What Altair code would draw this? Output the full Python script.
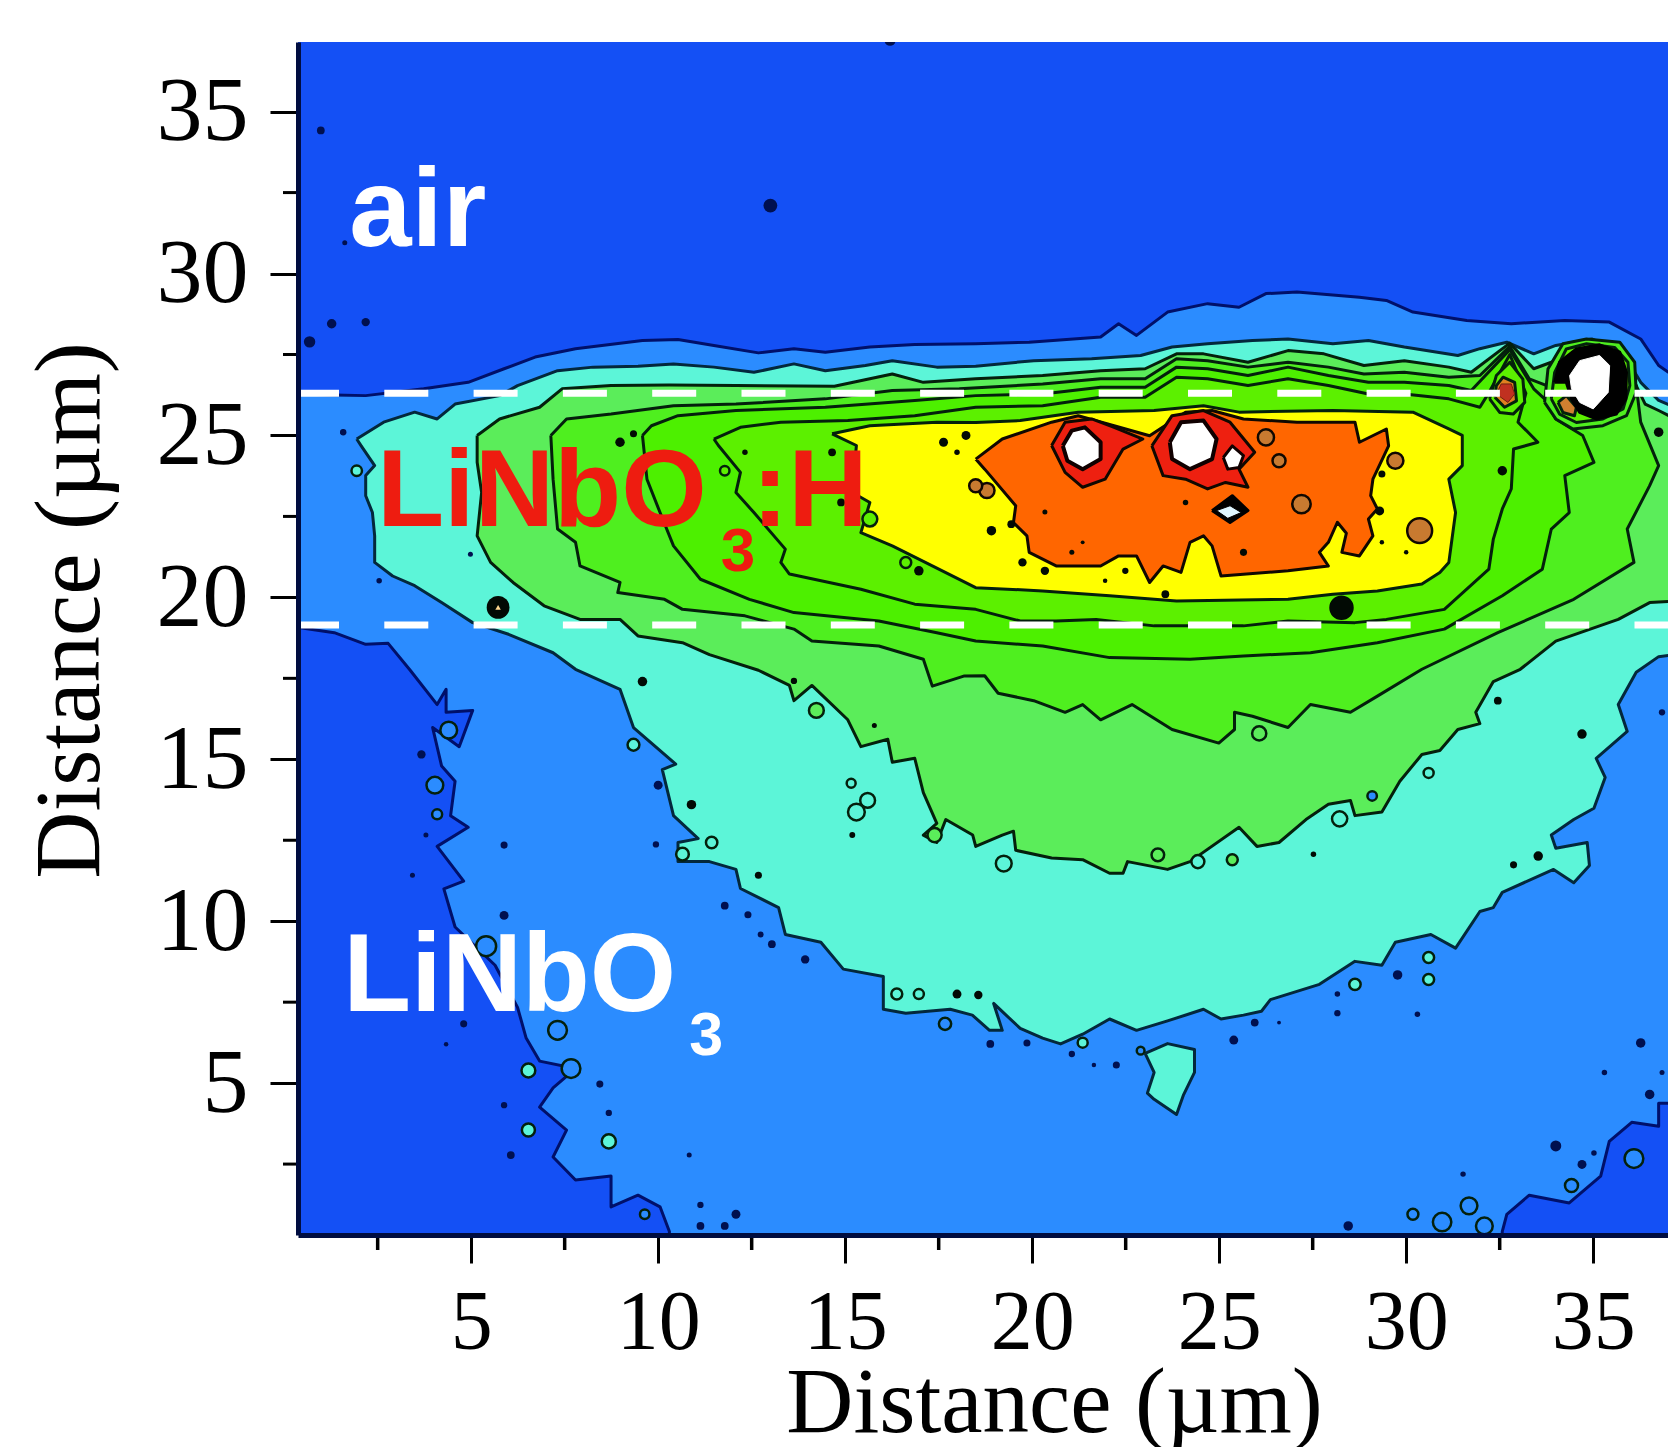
import altair as alt
import pandas as pd

X_MAJOR = [5, 10, 15, 20, 25, 30, 35]
Y_MAJOR = [5, 10, 15, 20, 25, 30, 35]
X_MINOR = [2.5, 7.5, 12.5, 17.5, 22.5, 27.5, 32.5]
Y_MINOR = [2.5, 7.5, 12.5, 17.5, 22.5, 27.5, 32.5]
TITLE = "Distance (µm)"
INTERFACES = [26.3, 19.15]

MID_BLUE = [[-1,26.28],[0.37,26.28],[1.34,26.25],[2.18,26.23],[3.73,26.44],[4.92,26.64],[5.88,27.06],[6.71,27.42],[7.79,27.68],[9.58,27.93],[10.53,27.96],[11.49,27.78],[12.68,27.55],[13.63,27.68],[14.47,27.57],[15.66,27.73],[16.86,27.81],[18.49,27.83],[19.92,27.88],[21.83,28.04],[22.31,28.45],[22.79,28.09],[23.62,28.81],[24.69,29.07],[25.53,28.96],[26.25,29.38],[27.08,29.43],[28.75,29.27],[29.47,29.17],[30.18,28.81],[31.62,28.55],[32.81,28.45],[34.24,28.55],[35.43,28.5],[36.27,27.98],[36.75,27.16],[37.2,26.8],[38,26.8],[38,4.38],[37.2,4.38],[36.75,4.38],[36.75,3.67],[36.03,3.79],[35.43,3.2],[35.2,2.13],[34.36,1.3],[33.29,1.54],[32.69,0.95],[32.57,0.42],[32.5,-1],[10.3,-1],[10.3,0.42],[10.05,1.18],[9.46,1.54],[8.74,1.18],[8.74,2.13],[7.79,2.01],[7.19,2.72],[7.55,3.55],[6.83,4.26],[7.19,4.85],[7.79,5.45],[6.83,5.68],[6.47,6.39],[6.24,7.34],[5.64,8.64],[4.57,9.82],[4.27,11.0],[4.8,11.24],[4.09,12.31],[4.92,12.9],[4.45,13.26],[4.57,14.32],[4.21,14.79],[3.97,15.98],[4.68,15.39],[5.04,16.51],[4.33,16.45],[4.33,17.16],[4.09,16.69],[3.37,17.75],[2.78,18.58],[2.18,18.55],[1.34,18.91],[0.39,19.07],[-1,19.07]]

CYAN = [[1.94,24.89],[2.66,25.41],[3.49,25.72],[4.09,25.51],[4.57,25.97],[5.76,26.23],[6.24,26.54],[7.31,27.0],[8.26,27.11],[9.46,27.14],[10.41,27.21],[11.49,27.11],[12.56,26.95],[13.63,27.21],[14.47,27.0],[15.54,27.16],[16.26,27.31],[17.45,27.11],[18.49,27.14],[20.04,27.31],[21.59,27.37],[22.9,27.47],[23.74,27.73],[24.69,27.83],[25.89,27.93],[26.84,27.98],[28.04,27.83],[28.99,27.93],[29.95,27.73],[31.38,27.47],[31.97,27.68],[32.69,27.88],[33.41,27.52],[34.0,27.78],[34.96,27.98],[35.79,27.57],[36.27,26.64],[36.75,26.08],[37.2,25.87],[38,25.87],[38,18.23],[37.2,18.23],[36.75,18.17],[36.15,17.69],[35.67,16.69],[35.91,15.86],[35.08,15.03],[35.32,14.44],[35.02,13.49],[34.48,13.14],[33.88,12.66],[34.0,12.25],[34.84,12.43],[34.9,11.72],[34.48,11.19],[33.94,11.6],[32.57,10.89],[32.33,10.42],[31.97,10.3],[31.32,9.17],[30.66,9.59],[29.71,9.35],[29.35,8.64],[28.63,8.76],[27.68,8.05],[26.37,7.58],[26.13,7.22],[25.65,7.1],[25.05,6.98],[24.58,7.28],[23.62,6.92],[22.79,6.63],[22.07,6.98],[21.35,6.51],[20.76,6.21],[20.28,6.39],[19.68,6.69],[18.97,7.46],[19.2,6.63],[18.86,6.63],[18.4,7.1],[17.81,7.28],[16.62,7.16],[16.02,7.28],[16.02,8.29],[14.95,8.52],[14.35,9.35],[13.4,9.59],[13.22,10.42],[12.2,11.01],[12.08,11.6],[11.37,11.84],[10.53,11.84],[10.53,12.43],[11.07,12.55],[10.41,13.26],[10.11,14.68],[10.47,14.85],[9.34,15.98],[8.98,17.16],[7.79,17.78],[7.19,18.29],[6.0,18.86],[5.04,19.22],[4.21,19.84],[3.49,20.36],[2.9,20.66],[2.42,21.08],[2.42,21.9],[2.36,22.62],[2.18,23.14],[2.18,23.76],[2.42,24.07],[2.06,24.68]]

CYAN_ISLAND = [[23.02,5.92],[23.62,6.22],[24.34,6.04],[24.34,5.33],[24.04,4.62],[23.86,4.03],[23.26,4.5],[23.08,4.69],[23.26,5.33]]

LEVEL3 = [[5.16,25.0],[5.76,25.51],[6.83,25.87],[7.43,26.44],[8.74,26.54],[10.29,26.56],[12.08,26.54],[14.71,26.52],[16.26,26.9],[17.09,26.64],[18.49,26.75],[20.28,26.85],[21.83,27.0],[23.02,27.06],[23.86,27.52],[24.58,27.52],[25.77,27.26],[26.84,27.62],[27.8,27.52],[28.87,27.16],[29.95,27.31],[31.14,27.11],[31.74,26.95],[32.77,27.85],[33.41,27.06],[33.88,27.26],[34.96,27.83],[35.67,27.37],[36.15,26.54],[36.39,25.97],[36.75,25.77],[37.2,25.51],[38,25.51],[38,19.89],[37.2,19.89],[36.51,19.84],[35.67,19.32],[34.0,18.65],[33.05,17.78],[32.33,17.4],[31.86,16.45],[31.97,16.1],[31.38,15.92],[30.9,15.27],[30.42,15.15],[29.83,14.32],[29.35,13.37],[28.63,13.26],[28.51,13.73],[27.92,13.61],[27.32,13.14],[26.6,12.43],[26.01,12.31],[25.53,12.9],[24.22,11.84],[23.62,11.6],[22.55,11.84],[22.43,11.48],[22.07,11.48],[21.35,11.9],[20.52,11.95],[19.56,12.19],[19.5,12.78],[19.2,12.66],[18.49,12.31],[18.41,12.66],[17.69,13.14],[17.45,12.43],[17.09,12.66],[17.45,13.02],[17.09,13.97],[16.86,15.03],[16.26,14.91],[16.14,15.62],[15.42,15.39],[15.07,16.22],[14.11,17.28],[13.63,16.81],[13.51,17.28],[12.68,17.75],[11.37,18.23],[10.65,18.6],[9.46,18.81],[8.98,19.32],[7.91,19.32],[6.95,19.74],[6.12,20.46],[5.52,21.08],[5.16,21.9],[5.28,23.24],[5.16,24.17]]

LEVEL4 = [[7.13,25.0],[7.55,25.51],[8.74,25.66],[10.41,25.92],[12.08,25.97],[14.47,26.13],[16.26,26.39],[18.05,26.44],[20.28,26.59],[21.83,26.75],[23.02,26.75],[23.86,27.37],[24.69,27.31],[25.77,27.11],[26.84,27.26],[27.92,27.11],[28.87,26.9],[29.95,26.95],[31.14,26.8],[31.97,26.85],[32.77,27.75],[33.29,26.75],[33.76,26.54],[33.88,27.16],[34.96,27.68],[35.67,27.16],[36.15,26.54],[36.27,25.41],[36.75,24.07],[36.51,23.45],[35.91,22.11],[36.09,21.08],[34.48,19.94],[32.45,18.91],[30.42,17.78],[29.23,16.95],[28.51,16.45],[27.44,16.69],[26.84,15.98],[25.89,16.33],[25.41,16.45],[25.41,15.92],[24.99,15.5],[23.74,15.92],[22.67,16.69],[21.83,16.22],[21.35,16.69],[20.88,16.45],[20.04,16.81],[19.09,17.04],[18.73,17.58],[18.17,17.57],[17.33,17.26],[17.09,18.09],[15.9,18.5],[14.11,18.65],[13.63,19.02],[12.32,19.43],[10.65,19.63],[10.17,19.94],[8.92,20.15],[8.98,20.46],[7.91,20.97],[7.79,21.7],[7.31,22.11],[7.19,23.65]]

LEVEL5 = [[9.58,25.0],[9.82,25.3],[10.53,25.61],[12.08,25.77],[14.47,25.87],[16.86,26.08],[18.49,26.23],[20.28,26.28],[21.83,26.49],[23.02,26.49],[23.86,27.11],[24.69,27.06],[25.77,26.85],[26.84,27.11],[27.92,26.85],[28.99,26.64],[29.95,26.64],[31.14,26.54],[31.74,26.39],[32.77,27.65],[33.41,26.44],[33.7,26.13],[34.0,25.51],[34.72,25.0],[35.02,24.17],[34.24,23.76],[34.36,22.62],[33.88,22.11],[33.64,20.87],[32.57,20.05],[31.02,19.02],[29.23,18.6],[27.44,18.29],[25.65,18.19],[24.22,18.09],[22.07,18.14],[20.28,18.5],[18.49,18.65],[17.45,18.91],[15.9,19.27],[13.63,19.53],[12.44,19.94],[11.13,20.56],[10.41,21.59],[10.05,22.62],[9.7,23.65]]

LEVEL6 = [[11.49,24.89],[12.2,25.25],[13.28,25.41],[15.07,25.46],[16.86,25.61],[18.49,25.87],[20.28,25.92],[21.83,26.18],[23.02,26.18],[23.86,26.8],[24.69,26.75],[25.77,26.54],[26.84,26.75],[27.92,26.54],[28.99,26.28],[29.95,26.28],[31.14,26.13],[31.97,25.87],[32.2,26.3],[32.77,27.5],[33.2,26.3],[32.99,25.41],[33.52,24.79],[32.87,24.58],[32.81,23.35],[32.57,22.73],[32.33,21.8],[32.21,20.87],[31.02,19.63],[29.47,19.32],[28.63,19.22],[26.84,19.27],[25.65,19.12],[23.26,19.12],[21.71,19.32],[20.64,19.27],[19.68,19.27],[18.49,19.63],[16.86,19.79],[15.42,20.25],[13.51,20.72],[13.28,21.08],[13.4,21.49],[12.56,22.62],[12.08,23.24],[12.2,23.86],[11.61,24.69]]

YELLOW = [[14.65,25.05],[15.66,25.3],[17.45,25.41],[18.49,25.4],[19.68,25.46],[21.23,25.72],[23.26,25.77],[24.58,25.92],[25.53,25.72],[28.04,25.77],[30.18,25.72],[31.14,25.2],[31.5,25.0],[31.5,24.07],[31.14,23.65],[31.32,22.62],[31.14,21.08],[30.9,20.77],[30.42,20.41],[29.23,20.2],[28.04,20.1],[26.84,19.94],[23.86,19.89],[22.07,20.05],[20.28,20.2],[18.49,20.3],[17.33,20.97],[16.26,21.59],[15.42,22.0],[15.66,22.93],[15.19,23.24],[15.3,24.69]]

ORANGE = [[18.49,24.27],[19.2,24.89],[20.52,25.41],[21.23,25.61],[22.19,25.3],[23.14,24.99],[24.1,25.72],[24.81,25.77],[25.65,25.51],[27.08,25.41],[28.63,25.41],[28.75,24.79],[29.47,25.2],[29.53,24.68],[29.11,23.65],[29.05,23.14],[29.23,22.73],[28.99,22.42],[29.11,21.9],[28.75,21.28],[28.28,21.39],[28.4,21.98],[28.16,22.32],[27.92,21.7],[27.68,21.39],[27.92,20.97],[26.84,20.82],[25.05,20.66],[24.81,21.59],[24.58,21.9],[24.22,21.7],[23.98,20.77],[23.5,20.97],[23.14,20.46],[22.79,21.28],[22.31,21.28],[21.83,20.97],[20.64,20.97],[19.92,21.39],[19.86,21.9],[19.5,22.31],[19.56,22.83],[18.73,23.96]]

RED_A = [[20.52,24.69],[20.88,25.41],[21.59,25.51],[22.19,25.25],[22.96,24.89],[22.43,24.58],[21.95,23.65],[21.35,23.4],[20.88,23.86]]
RED_B = [[23.2,24.68],[23.74,25.61],[24.58,25.77],[25.29,25.41],[25.95,24.48],[25.53,23.96],[25.77,23.4],[25.17,23.55],[24.69,23.35],[24.1,23.65],[23.5,23.76]]
HOLE_A = [[20.82,24.68],[21.06,25.15],[21.41,25.25],[21.83,24.79],[21.83,24.27],[21.35,23.96],[20.94,24.22]]
HOLE_B = [[23.68,24.79],[23.98,25.41],[24.58,25.46],[24.93,24.89],[24.81,24.27],[24.22,23.96],[23.74,24.27]]
HOLE_C = [[25.11,24.32],[25.35,24.68],[25.65,24.38],[25.53,24.01],[25.23,23.96]]
HOLE_D_RING = [[24.81,22.68],[25.35,23.14],[25.77,22.68],[25.29,22.31]]
HOLE_D = [[24.93,22.68],[25.29,22.83],[25.59,22.62],[25.23,22.44]]

PEAK_B_RING = [[33.7,26.02],[34.0,25.51],[34.46,25.2],[35.26,25.3],[35.89,25.61],[36.15,26.33],[36.11,27.26],[35.71,27.88],[34.82,27.98],[34.19,27.83],[33.79,27.05]]
PEAK_B_RING2 = [[33.88,26.13],[34.1,25.66],[34.55,25.4],[35.26,25.51],[35.8,25.82],[35.98,26.54],[35.93,27.26],[35.57,27.72],[34.82,27.83],[34.28,27.67],[33.97,26.95]]
PEAK_B_CORE = [[33.97,26.64],[34.1,27.26],[34.55,27.67],[35.17,27.8],[35.71,27.57],[35.89,26.95],[35.87,26.13],[35.62,25.66],[35.08,25.51],[34.64,25.71],[34.42,26.13],[34.28,26.64]]
PEAK_B_BLOB = [[34.06,26.02],[34.28,26.23],[34.55,25.87],[34.5,25.61],[34.19,25.71]]
PEAK_B_HOLE = [[34.37,26.85],[34.64,27.31],[35.17,27.47],[35.44,27.16],[35.4,26.33],[35.0,25.82],[34.64,26.02],[34.42,26.44]]
PEAK_A_OUTER = [[32.23,26.13],[32.5,25.71],[32.86,25.66],[33.17,26.02],[33.12,26.74],[32.77,27.26],[32.41,26.85]]
PEAK_A_MID = [[32.37,26.18],[32.63,25.87],[32.95,26.07],[32.9,26.64],[32.59,26.8],[32.41,26.54]]
PEAK_A_CORE = [[32.41,26.28],[32.72,26.02],[32.9,26.28],[32.81,26.59],[32.54,26.59]]

SPECK_X = [0.98,0.68,1.27,2.18,1.62,1.57,3.67,10,5.88,9.94,3.79,3.43,5.88,11.78,12.4,12.74,13.04,13.93,4.8,4.33,8.44,8.68,5.88,6.06,10.83,11.13,12.08,11.13,11.78,18.88,19.86,21.06,21.65,22.25,25.39,25.95,26.6,28.16,28.16,29.77,30.3,36.84,36.27,35.3,36.84,36.51,34.0,34.7,31.52,28.45,35.02,13.0,16.2,4.98,1.58,2.54]
SPECK_Y = [34.42,27.89,28.45,28.5,30.95,25.1,15.15,14.2,12.35,12.37,12.66,11.42,10.18,10.48,10.2,9.59,9.29,8.82,6.83,6.2,4.97,4.08,4.32,2.78,2.78,1.24,0.95,0.59,0.59,6.21,6.24,5.9,5.56,5.56,6.33,6.87,6.87,7.75,7.16,8.34,7.13,16.45,6.24,5.33,5.33,4.65,3.06,2.49,2.19,0.59,2.84,32.1,37.2,21.33,25.1,20.51]
SPECK_AREA = [60,130,90,70,25,30,70,80,50,40,25,25,80,60,50,35,60,70,50,20,50,40,40,60,25,40,80,60,60,60,50,40,20,50,80,60,15,30,40,90,30,40,90,30,25,90,120,80,30,90,30,190,120,25,40,30]

BLACK_X = [5.72,28.27,10.89,12.68,17.99,18.56,15.19,15.78,9.58,13.63,32.87,33.53,32.45,34.7,27.52,18.91,19.44,19.74,20.34,21.95,22.49,29.35,29.29,29.35,30.0,23.56,20.34,24.1,21.35,21.06,25.65,32.57,36.75,17.63,18.23,17.99,12.32,14.65,8.98,9.34,14.89,16.97]
BLACK_Y = [19.69,19.68,13.6,11.42,7.75,7.72,12.66,16.04,17.4,17.42,11.74,12.01,16.81,15.78,12.07,22.06,22.26,21.08,20.82,20.51,20.82,23.81,22.67,21.7,21.39,20.1,22.64,22.93,21.7,21.39,21.39,23.91,25.1,24.79,25.0,24.48,24.48,24.48,24.79,25.05,22.93,20.82]
BLACK_AREA = [520,600,90,50,80,70,35,25,90,40,50,90,60,90,30,90,60,70,70,20,40,50,80,20,20,60,25,30,15,25,50,90,90,80,80,30,30,60,90,50,60,90]

BROWN_X = [26.25,26.6,27.2,29.71,30.36,18.79,18.49]
BROWN_Y = [24.94,24.22,22.88,24.22,22.06,23.3,23.45]
BROWN_AREA = [260,170,340,260,620,230,170]

ISLAND_X = [14.23,15.16,15.6,15.3,17.39,9.34,11.43,10.65,16.38,16.97,17.67,8.68,6.53,6.53,9.64,28.22,29.09,30.6,21.35,24.43,23.36,26.07,25.35,19.24,30.6,30.6,28.63,36.09,34.42,31.68,30.18,30.96,32.09,4.03,4.09,5.4,7.31,7.67,4.4,22.9,11.78,15.66,16.62,1.94]
ISLAND_Y = [16.51,14.26,13.73,13.37,12.66,15.45,12.43,12.07,7.75,7.75,6.83,3.2,3.55,5.39,0.95,13.16,13.87,14.58,6.25,11.84,12.05,15.8,11.9,11.78,8.88,8.2,8.05,2.67,1.84,1.21,0.95,0.71,0.59,14.2,13.3,9.23,6.63,5.45,15.9,6.0,23.91,22.42,21.08,23.91]
ISLAND_AREA = [220,80,220,280,200,140,130,160,120,100,150,200,170,190,90,230,90,100,100,170,160,200,120,250,120,120,130,350,170,280,120,340,280,280,100,400,350,350,280,60,90,220,120,110]
ISLAND_TONE = [3,2,2,2,3,2,2,2,2,2,1,2,2,2,1,2,1,2,2,2,3,3,3,2,2,2,2,1,1,1,1,1,1,1,1,1,1,1,1,1,4,4,4,2]

COLORS = {"blue": "#1450F5", "mid": "#2B8CFF", "cyan": "#5CF5D8", "l3": "#5BED5A", "l4": "#4FEF1F",
          "l5": "#4DF000", "l6": "#5CF000", "yellow": "#FFFF00", "orange": "#FF6600", "red": "#EE2010"}
TONES = {1: COLORS["mid"], 2: COLORS["cyan"], 3: COLORS["l3"], 4: COLORS["l6"]}

W, H = 1370, 1193
XMIN, XMAX = 0.37, 37.0
SERIF = "Liberation Serif"
SANS = "Liberation Sans"

sx = alt.Scale(domain=[XMIN, XMAX], nice=False, zero=False)
sy = alt.Scale(domain=[0.31, 37.15], nice=False, zero=False)
ax_x = alt.Axis(values=X_MAJOR, title=TITLE, format="d", grid=False, domainWidth=5, domainColor="#000d40",
                tickSize=28, tickWidth=3, tickColor="#000", labelFont=SERIF, labelFontSize=84, labelColor="#000",
                labelPadding=85, labelBaseline="alphabetic", labelFlush=False, titleFont=SERIF, titleFontSize=93,
                titleFontWeight="normal", titleColor="#000", titleX=756, titleY=196, titleBaseline="alphabetic",
                zindex=1, labelOverlap=False)
ax_y = alt.Axis(values=Y_MAJOR, title=TITLE, format="d", grid=False, domainWidth=5, domainColor="#000d40",
                tickSize=28, tickWidth=3, tickColor="#000", labelFont=SERIF, labelFontSize=92, labelColor="#000",
                labelPadding=22, labelFlush=False, titleFont=SERIF, titleFontSize=93, titleFontWeight="normal",
                titleColor="#000", titleX=-200, titleY=568, titleBaseline="alphabetic", zindex=1, labelOverlap=False)
X = alt.X("x:Q", scale=sx, axis=ax_x)
Y = alt.Y("y:Q", scale=sy, axis=ax_y)


def poly(points, fill, stroke="#04200c", width=3):
    pts = list(points) + [points[0]]
    df = pd.DataFrame(pts, columns=["x", "y"])
    df["i"] = range(len(df))
    return alt.Chart(df).mark_line(fill=fill, stroke=stroke, strokeWidth=width, clip=True, strokeJoin="round").encode(
        x=X, y=Y, order=alt.Order("i:Q"))


def text(label, xv, yv, size, color, font=SANS, weight="bold"):
    return alt.Chart(pd.DataFrame({"x": [xv], "y": [yv], "t": [label]})).mark_text(
        font=font, fontSize=size, fontWeight=weight, color=color, align="left", baseline="alphabetic", clip=False
    ).encode(x=X, y=Y, text="t:N")


NAVY = "#00106a"
layers = [
    poly(MID_BLUE, COLORS["mid"], NAVY),
    poly(CYAN, COLORS["cyan"], "#03283c"),
    poly(CYAN_ISLAND, COLORS["cyan"], "#03283c"),
    poly(LEVEL3, COLORS["l3"]),
    poly(LEVEL4, COLORS["l4"]),
    poly(LEVEL5, COLORS["l5"]),
    poly(LEVEL6, COLORS["l6"]),
    poly(YELLOW, COLORS["yellow"]),
    poly(ORANGE, COLORS["orange"], "#100800"),
    poly(RED_A, COLORS["red"], "#100800"),
    poly(RED_B, COLORS["red"], "#100800"),
    poly(HOLE_A, "#ffffff", "#100000", 4),
    poly(HOLE_B, "#ffffff", "#100000", 4),
    poly(HOLE_C, "#ffffff", "#100000", 3),
    poly(HOLE_D_RING, "#000000", "#000000", 3),
    poly(HOLE_D, "#dff6ff", "#000000", 1),
    poly(PEAK_A_OUTER, COLORS["l6"]),
    poly(PEAK_A_MID, "#E08020"),
    poly(PEAK_A_CORE, "#C03020", "#702010", 1),
    poly(PEAK_B_RING, COLORS["l4"]),
    poly(PEAK_B_RING2, COLORS["l6"]),
    poly(PEAK_B_BLOB, "#D08030"),
    poly(PEAK_B_CORE, "#000000", "#000000"),
    poly(PEAK_B_HOLE, "#ffffff", "#ffffff", 1),
]

islands = pd.DataFrame({"x": ISLAND_X, "y": ISLAND_Y, "a": ISLAND_AREA, "tone": [TONES[t] for t in ISLAND_TONE]})
layers.append(alt.Chart(islands).mark_point(filled=True, stroke="#04200c", strokeWidth=2.5, opacity=1, clip=True).encode(
    x=X, y=Y, size=alt.Size("a:Q", scale=None, legend=None), fill=alt.Fill("tone:N", scale=None, legend=None)))
brown = pd.DataFrame({"x": BROWN_X, "y": BROWN_Y, "a": BROWN_AREA})
layers.append(alt.Chart(brown).mark_point(filled=True, fill="#C87A30", stroke="#100800", strokeWidth=2.5, opacity=1, clip=True).encode(
    x=X, y=Y, size=alt.Size("a:Q", scale=None, legend=None)))
specks = pd.DataFrame({"x": SPECK_X, "y": SPECK_Y, "a": SPECK_AREA})
layers.append(alt.Chart(specks).mark_point(filled=True, color="#001050", opacity=1, clip=True).encode(
    x=X, y=Y, size=alt.Size("a:Q", scale=None, legend=None)))
blacks = pd.DataFrame({"x": BLACK_X, "y": BLACK_Y, "a": BLACK_AREA})
layers.append(alt.Chart(blacks).mark_point(filled=True, color="#020a04", opacity=1, clip=True).encode(
    x=X, y=Y, size=alt.Size("a:Q", scale=None, legend=None)))
layers.append(alt.Chart(pd.DataFrame({"x": [5.72], "y": [19.69]})).mark_point(
    filled=True, shape="triangle-up", color="#FFD890", size=30, opacity=1).encode(x=X, y=Y))

layers.append(alt.Chart(pd.DataFrame({"v": X_MINOR})).mark_rule(color="#000", strokeWidth=3.5).encode(
    x=alt.X("v:Q", scale=sx, axis=ax_x), y=alt.value(H), y2=alt.value(H + 15)))
layers.append(alt.Chart(pd.DataFrame({"v": Y_MINOR})).mark_rule(color="#000", strokeWidth=3).encode(
    y=alt.Y("v:Q", scale=sy, axis=ax_y), x=alt.value(-15), x2=alt.value(0)))

dash = pd.DataFrame({"y": INTERFACES, "a": [XMIN] * 2, "b": [XMAX] * 2})
layers.append(alt.Chart(dash).mark_rule(color="#ffffff", strokeWidth=7, strokeDash=[44, 45.3], strokeDashOffset=3).encode(
    x=alt.X("a:Q", scale=sx, axis=ax_x), x2="b:Q", y=alt.Y("y:Q", scale=sy, axis=ax_y)))

layers += [
    text("air", 1.74, 30.86, 112, "#ffffff"),
    text("LiNbO", 1.58, 7.24, 111, "#ffffff"),
    text("3", 10.83, 5.86, 61, "#ffffff"),
    text("LiNbO", 2.48, 22.21, 110, "#EE1C10"),
    text("3", 11.67, 20.82, 62, "#EE1C10"),
    text(":H", 12.5, 22.21, 110, "#EE1C10"),
]

chart = alt.layer(*layers).properties(
    width=W, height=H, background="#ffffff",
    autosize=alt.AutoSizeParams(type="none"),
    padding={"left": 290, "top": 34, "right": 0, "bottom": 212},
).configure_view(fill=COLORS["blue"], stroke=None)

chart.save("out.html", embed_options={"renderer": "svg", "actions": False})
